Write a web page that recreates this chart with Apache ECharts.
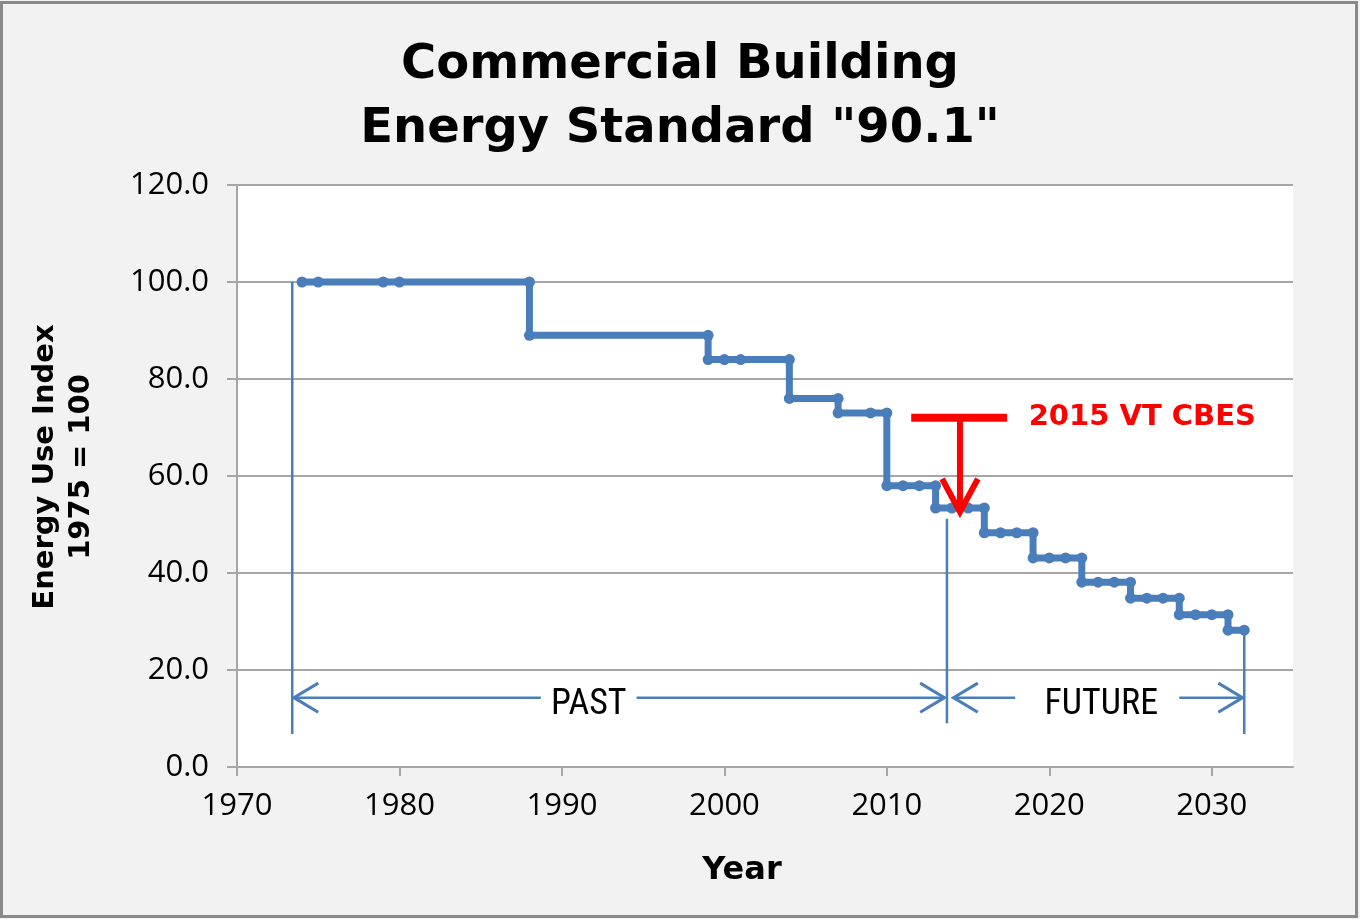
<!DOCTYPE html>
<html>
<head>
<meta charset="utf-8">
<script src="https://cdn.jsdelivr.net/npm/echarts@6/dist/echarts.min.js"></script>
<style>
html,body{margin:0;padding:0;background:#f2f2f2;}
#chart{width:1360px;height:919px;position:absolute;left:0;top:0;}
#frame{position:absolute;left:0;top:1px;width:1358px;height:917px;box-sizing:border-box;border:3px solid #8a8a8a;pointer-events:none;}
</style>
</head>
<body>
<div id="chart"></div>
<div id="frame"></div>
<script>
// ---- data ----
const titleLines = ['Commercial Building', 'Energy Standard "90.1"'];
const xTickLabels = [1970, 1980, 1990, 2000, 2010, 2020, 2030];
const yTickLabels = [0, 20, 40, 60, 80, 100, 120];
const stepYears = [1974,1975,1979,1980,1988,1988,1999,1999,2000,2001,2004,2004,2007,2007,2009,2010,2010,2011,2012,2013,2013,2014,2015,2016,2016,2017,2018,2019,2019,2020,2021,2022,2022,2023,2024,2025,2025,2026,2027,2028,2028,2029,2030,2031,2031,2032];
const stepIndex = [100,100,100,100,100,89,89,84,84,84,84,76,76,73,73,73,58,58,58,58,53.4,53.4,53.4,53.4,48.3,48.3,48.3,48.3,43.1,43.1,43.1,43.1,38.1,38.1,38.1,38.1,34.8,34.8,34.8,34.8,31.4,31.4,31.4,31.4,28.2,28.2];

// annotation geometry in data units (year, index)
const pastStart = 1973.4, divider = 2013.7, futureEnd = 2032;
const arrowY = 14.3;
const dividerLines = [
  [[pastStart, 100], [pastStart, 6.8]],
  [[divider, 51.2], [divider, 9]],
  [[futureEnd, 28.2], [futureEnd, 6.8]]
];
const spanLines = [
  [[1973.5, arrowY], [1988.7, arrowY]],
  [[1994.6, arrowY], [2013.55, arrowY]],
  [[2014.1, arrowY], [2017.9, arrowY]],
  [[2028.0, arrowY], [2031.9, arrowY]]
];
const chevrons = [
  [[1975.0, 17.3], [1973.5, arrowY], [1975.0, 11.3]],
  [[2012.05, 17.3], [2013.55, arrowY], [2012.05, 11.3]],
  [[2015.6, 17.3], [2014.1, arrowY], [2015.6, 11.3]],
  [[2030.4, 17.3], [2031.9, arrowY], [2030.4, 11.3]]
];
const spanLabels = [
  { text: 'PAST', year: 1991.65, y: 12.8 },
  { text: 'FUTURE', year: 2023.2, y: 12.8 }
];
const codeBar = [[2011.5, 72], [2017.4, 72]];
const codeStem = [[2014.5, 72], [2014.5, 54]];
const codeHead = [[2013.4, 59.4], [2014.5, 52.6], [2015.6, 59.4]];
const codeLabel = { text: '2015 VT CBES', year: 2018.7, y: 72 };

const BLUE = '#4a7ebb';
const RED = '#ff0000';
const GRID = '#a6a6a6';

const chart = echarts.init(document.getElementById('chart'), null, { renderer: 'canvas' });

const option = {
  backgroundColor: '#f2f2f2',
  animation: false,
  title: {
    text: titleLines.join('\n'),
    left: 'center',
    top: 29,
    textStyle: {
      fontFamily: 'DejaVu Sans',
      fontWeight: 'bold',
      fontSize: 48,
      lineHeight: 64,
      color: '#000'
    }
  },
  grid: {
    left: 237, right: 67, top: 185, bottom: 152,
    show: true, backgroundColor: '#ffffff', borderWidth: 0
  },
  xAxis: {
    type: 'value',
    min: 1970, max: 2035, interval: 10,
    name: 'Year',
    nameLocation: 'middle',
    nameGap: 88,
    nameTextStyle: {
      fontFamily: 'DejaVu Sans', fontWeight: 'bold', fontSize: 32, color: '#000',
      padding: [0, 46, 0, 0]
    },
    axisLine: { show: true, lineStyle: { color: GRID, width: 2 } },
    axisTick: { show: true, length: 9, lineStyle: { color: GRID, width: 2 }, customValues: xTickLabels },
    axisLabel: {
      customValues: xTickLabels,
      margin: 24,
      fontFamily: 'Open Sans', fontSize: 31, color: '#000',
      formatter: v => String(v)
    },
    splitLine: { show: false }
  },
  yAxis: {
    type: 'value',
    min: 0, max: 120, interval: 20,
    name: 'Energy Use Index\n1975 = 100',
    nameLocation: 'middle',
    nameRotate: 90,
    nameGap: 138,
    nameTextStyle: {
      fontFamily: 'DejaVu Sans', fontWeight: 'bold', fontSize: 29, lineHeight: 36, color: '#000',
      padding: [0, 0, 0, 18]
    },
    axisLine: { show: true, lineStyle: { color: GRID, width: 2 } },
    axisTick: { show: true, length: 10, lineStyle: { color: GRID, width: 2 }, customValues: yTickLabels },
    axisLabel: {
      customValues: yTickLabels,
      margin: 28,
      fontFamily: 'Open Sans', fontSize: 31, color: '#000',
      formatter: v => Number(v).toFixed(1)
    },
    splitLine: { show: true, lineStyle: { color: GRID, width: 2 } }
  },
  series: [
    {
      type: 'lines',
      coordinateSystem: 'cartesian2d',
      polyline: true,
      silent: true,
      z: 2,
      lineStyle: { color: BLUE, width: 2.5, opacity: 1 },
      data: dividerLines.concat(spanLines).map(c => ({ coords: c })).concat(
        chevrons.map(c => ({ coords: c, lineStyle: { width: 3, join: 'miter' } })))
    },
    {
      type: 'line',
      data: stepYears.map((yr, i) => [yr, stepIndex[i]]),
      symbol: 'circle',
      symbolSize: 11,
      showSymbol: true,
      z: 5,
      lineStyle: { color: BLUE, width: 7, join: 'round' },
      itemStyle: { color: BLUE, borderWidth: 0 }
    },
    {
      type: 'lines',
      coordinateSystem: 'cartesian2d',
      polyline: true,
      silent: true,
      z: 8,
      lineStyle: { color: RED, width: 6, opacity: 1, join: 'miter', cap: 'butt' },
      data: [
        { coords: codeBar, lineStyle: { width: 8 } },
        { coords: codeStem },
        { coords: codeHead }
      ]
    },
    {
      type: 'scatter',
      symbolSize: 1,
      silent: true,
      z: 9,
      itemStyle: { color: 'rgba(0,0,0,0)', opacity: 1 },
      data: spanLabels.map(l => ({
        value: [l.year, l.y],
        name: l.text,
        label: {
          show: true, position: 'inside', formatter: l.text, opacity: 1,
          fontFamily: '"Liberation Sans Narrow", "Roboto Condensed", Roboto, sans-serif',
          fontSize: 36, color: '#000', textBorderWidth: 0
        }
      })).concat([{
        value: [codeLabel.year, codeLabel.y],
        name: codeLabel.text,
        label: {
          show: true, position: 'right', distance: 0, formatter: codeLabel.text, opacity: 1,
          fontFamily: 'DejaVu Sans', fontWeight: 'bold', fontSize: 29, color: RED, textBorderWidth: 0
        }
      }])
    }
  ]
};
chart.setOption(option);
</script>
</body>
</html>
